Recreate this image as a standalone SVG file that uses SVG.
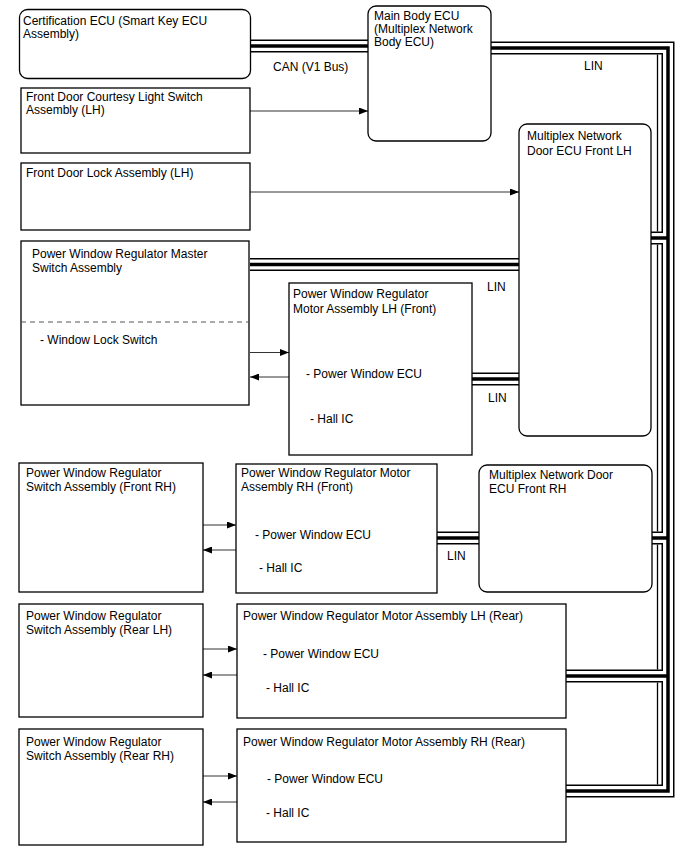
<svg xmlns="http://www.w3.org/2000/svg" width="688" height="852" viewBox="0 0 688 852">
<defs>
<marker id="ah" markerUnits="userSpaceOnUse" markerWidth="9" markerHeight="7" refX="9" refY="3.5" orient="auto">
<path d="M0,0 L9,3.5 L0,7 z" fill="#000"/>
</marker>
<style>
.box{fill:#fff;stroke:#000;stroke-width:1.3}
.t{font-family:"Liberation Sans",Arial,sans-serif;font-size:12px;fill:#000}
.ln{stroke:#333;stroke-width:1;fill:none;marker-end:url(#ah)}
.bo{stroke:#000;stroke-width:13;fill:none;stroke-linejoin:miter}
.bw{stroke:#fff;stroke-width:10;fill:none;stroke-linejoin:miter}
.bc{stroke:#000;stroke-width:3.5;fill:none;stroke-linejoin:miter}
.bx{stroke:#000;stroke-width:1.3;fill:none}
.dash{stroke:#555;stroke-width:1;stroke-dasharray:5,4;fill:none}
</style>
</defs>
<rect width="688" height="852" fill="#fff"/>
<g id="connectors">
<g class="bo">
<path d="M250,46 H368"/>
<path d="M491,48 H668 V791 H566"/>
<path d="M668,238 H651"/>
<path d="M668,538 H652"/>
<path d="M668,676 H566"/>
<path d="M250,264.5 H519"/>
<path d="M472,379 H519"/>
<path d="M437,538 H479"/>
</g>
<g class="bw">
<path d="M250,46 H368"/>
<path d="M491,48 H668 V791 H566"/>
<path d="M668,238 H651"/>
<path d="M668,538 H652"/>
<path d="M668,676 H566"/>
<path d="M250,264.5 H519"/>
<path d="M472,379 H519"/>
<path d="M437,538 H479"/>
</g>
<g class="bx">
<path d="M657.5,54.5 V231.5"/>
<path d="M657.5,244.5 V531.5"/>
<path d="M657.5,544.5 V669.5"/>
<path d="M657.5,682.5 V784.5"/>
</g>
<g class="bc">
<path d="M250,46 H368"/>
<path d="M491,48 H668 V791 H566"/>
<path d="M668,238 H651"/>
<path d="M668,538 H652"/>
<path d="M668,676 H566"/>
<path d="M250,264.5 H519"/>
<path d="M472,379 H519"/>
<path d="M437,538 H479"/>
</g>
<path class="ln" d="M250,111 H368"/>
<path class="ln" d="M250,192 H519"/>
<path class="ln" d="M250,352.5 H289"/>
<path class="ln" d="M289,377 H250"/>
<path class="ln" d="M203,525 H236"/>
<path class="ln" d="M236,550 H203"/>
<path class="ln" d="M203,649 H237"/>
<path class="ln" d="M237,675 H203"/>
<path class="ln" d="M203,776 H237"/>
<path class="ln" d="M237,802 H203"/>
<text class="t" x="273" y="71">CAN (V1 Bus)</text>
<text class="t" x="584" y="70">LIN</text>
<text class="t" x="487" y="291">LIN</text>
<text class="t" x="488" y="402">LIN</text>
<text class="t" x="447" y="560">LIN</text>
</g>
<g id="cert-ecu">
<rect class="box" x="19.5" y="9.5" width="231" height="69" rx="8"/>
<text class="t" x="23" y="25">Certification ECU (Smart Key ECU</text>
<text class="t" x="23" y="38">Assembly)</text>
</g>
<g id="main-body-ecu">
<rect class="box" x="368" y="6" width="123" height="135" rx="8"/>
<text class="t" x="374" y="20">Main Body ECU</text>
<text class="t" x="374" y="33">(Multiplex Network</text>
<text class="t" x="374" y="46">Body ECU)</text>
</g>
<g id="courtesy-switch">
<rect class="box" x="21" y="88" width="229" height="65"/>
<text class="t" x="26" y="101">Front Door Courtesy Light Switch</text>
<text class="t" x="26" y="114">Assembly (LH)</text>
</g>
<g id="door-lock">
<rect class="box" x="21" y="163" width="229" height="67"/>
<text class="t" x="26" y="177">Front Door Lock Assembly (LH)</text>
</g>
<g id="door-ecu-lh">
<rect class="box" x="519" y="124" width="132" height="312" rx="8"/>
<text class="t" x="527" y="140">Multiplex Network</text>
<text class="t" x="527" y="155">Door ECU Front LH</text>
</g>
<g id="master-switch">
<rect class="box" x="21" y="241" width="228" height="164"/>
<text class="t" x="32" y="258">Power Window Regulator Master</text>
<text class="t" x="32" y="272">Switch Assembly</text>
<path class="dash" d="M21,322 H249"/>
<text class="t" x="40" y="344">- Window Lock Switch</text>
</g>
<g id="motor-lh-front">
<rect class="box" x="289" y="283" width="183" height="172"/>
<text class="t" x="293" y="298">Power Window Regulator</text>
<text class="t" x="293" y="313">Motor Assembly LH (Front)</text>
<text class="t" x="306" y="378">- Power Window ECU</text>
<text class="t" x="310" y="423">- Hall IC</text>
</g>
<g id="switch-front-rh">
<rect class="box" x="19" y="463" width="184" height="129"/>
<text class="t" x="26" y="477">Power Window Regulator</text>
<text class="t" x="26" y="491">Switch Assembly (Front RH)</text>
</g>
<g id="motor-rh-front">
<rect class="box" x="236" y="464" width="201" height="129"/>
<text class="t" x="241" y="477">Power Window Regulator Motor</text>
<text class="t" x="241" y="491">Assembly RH (Front)</text>
<text class="t" x="255" y="539">- Power Window ECU</text>
<text class="t" x="259" y="572">- Hall IC</text>
</g>
<g id="door-ecu-rh">
<rect class="box" x="479" y="465" width="173" height="127" rx="8"/>
<text class="t" x="489" y="479">Multiplex Network Door</text>
<text class="t" x="489" y="493">ECU Front RH</text>
</g>
<g id="switch-rear-lh">
<rect class="box" x="19" y="604" width="184" height="113"/>
<text class="t" x="26" y="620">Power Window Regulator</text>
<text class="t" x="26" y="634">Switch Assembly (Rear LH)</text>
</g>
<g id="motor-lh-rear">
<rect class="box" x="237" y="604" width="329" height="114"/>
<text class="t" x="243" y="620">Power Window Regulator Motor Assembly LH (Rear)</text>
<text class="t" x="263" y="658">- Power Window ECU</text>
<text class="t" x="266" y="692">- Hall IC</text>
</g>
<g id="switch-rear-rh">
<rect class="box" x="19" y="729" width="184" height="116"/>
<text class="t" x="26" y="746">Power Window Regulator</text>
<text class="t" x="26" y="760">Switch Assembly (Rear RH)</text>
</g>
<g id="motor-rh-rear">
<rect class="box" x="237" y="729" width="329" height="113"/>
<text class="t" x="243" y="746">Power Window Regulator Motor Assembly RH (Rear)</text>
<text class="t" x="267" y="783">- Power Window ECU</text>
<text class="t" x="266" y="817">- Hall IC</text>
</g>
</svg>
